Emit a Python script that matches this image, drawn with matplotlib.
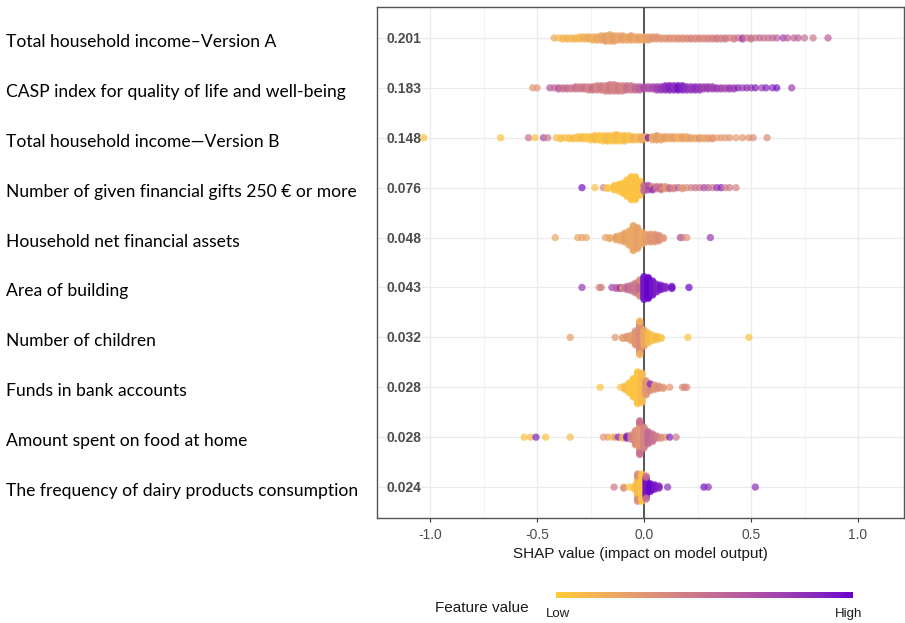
import numpy as np
import matplotlib
matplotlib.use("Agg")
import matplotlib.pyplot as plt
from matplotlib.colors import ListedColormap
from matplotlib.transforms import blended_transform_factory

plt.rcParams["font.family"] = ["Liberation Sans", "DejaVu Sans"]
plt.rcParams["axes.unicode_minus"] = False

# Feature names, top to bottom, and mean |SHAP| shown inside the panel
features = [
    "Total household income\u2013Version A",
    "CASP index for quality of life and well-being",
    "Total household income\u2014Version B",
    "Number of given financial gifts 250 \u20ac or more",
    "Household net financial assets",
    "Area of building",
    "Number of children",
    "Funds in bank accounts",
    "Amount spent on food at home",
    "The frequency of dairy products consumption",
]
mean_abs = [0.201, 0.183, 0.148, 0.076, 0.048, 0.043, 0.032, 0.028, 0.028, 0.024]

# Each row: (SHAP value, scaled feature value 0..1, number of observations)
income_a = [
    (-0.42, 0.2, 1), (-0.40, 0.1, 1), (-0.38, 0.1, 2), (-0.36, 0.15, 2),
    (-0.34, 0.1, 2), (-0.32, 0.15, 2), (-0.30, 0.1, 3), (-0.28, 0.15, 3),
    (-0.26, 0.2, 3), (-0.24, 0.15, 4), (-0.22, 0.2, 4), (-0.20, 0.2, 5),
    (-0.18, 0.25, 6), (-0.16, 0.2, 7), (-0.14, 0.25, 6), (-0.12, 0.2, 5),
    (-0.10, 0.25, 5), (-0.08, 0.2, 4), (-0.06, 0.25, 5), (-0.04, 0.2, 4),
    (-0.02, 0.25, 4), (0.00, 0.2, 4), (0.02, 0.25, 4), (0.04, 0.3, 3),
    (0.06, 0.3, 3), (0.08, 0.3, 2), (0.10, 0.3, 2), (0.12, 0.35, 2),
    (0.14, 0.3, 2), (0.16, 0.35, 2), (0.18, 0.35, 2), (0.20, 0.35, 2),
    (0.22, 0.4, 2), (0.24, 0.35, 2), (0.26, 0.4, 2), (0.28, 0.35, 2),
    (0.30, 0.4, 2), (0.32, 0.4, 2), (0.34, 0.45, 2), (0.36, 0.4, 2),
    (0.38, 0.45, 2), (0.40, 0.45, 1), (0.42, 0.4, 2), (0.44, 0.5, 1),
    (0.46, 0.7, 2), (0.48, 0.45, 1), (0.50, 0.5, 2), (0.52, 0.45, 1),
    (0.54, 0.55, 1), (0.56, 0.5, 1), (0.58, 0.5, 1), (0.60, 0.55, 1),
    (0.62, 0.6, 1), (0.65, 0.75, 1), (0.67, 0.6, 1), (0.70, 0.55, 1),
    (0.72, 0.6, 1), (0.75, 0.5, 1), (0.79, 0.45, 1), (0.86, 0.6, 1),
]
casp = [
    (-0.52, 0.3, 1), (-0.50, 0.3, 1), (-0.44, 0.65, 1), (-0.42, 0.55, 1),
    (-0.40, 0.6, 2), (-0.38, 0.5, 2), (-0.36, 0.55, 2), (-0.34, 0.45, 2),
    (-0.32, 0.5, 3), (-0.30, 0.45, 3), (-0.28, 0.5, 3), (-0.26, 0.4, 4),
    (-0.24, 0.5, 4), (-0.22, 0.4, 5), (-0.20, 0.45, 5), (-0.18, 0.4, 6),
    (-0.16, 0.45, 7), (-0.14, 0.4, 7), (-0.12, 0.45, 6), (-0.10, 0.4, 6),
    (-0.08, 0.5, 5), (-0.06, 0.45, 5), (-0.04, 0.55, 4), (-0.02, 0.6, 4),
    (0.00, 0.7, 3), (0.02, 0.65, 3), (0.04, 0.7, 3), (0.06, 0.75, 4),
    (0.08, 0.8, 4), (0.10, 0.85, 5), (0.12, 0.9, 5), (0.14, 0.85, 5),
    (0.16, 0.95, 5), (0.18, 0.9, 5), (0.20, 0.85, 4), (0.22, 0.8, 4),
    (0.24, 0.85, 4), (0.26, 0.8, 4), (0.28, 0.75, 3), (0.30, 0.8, 3),
    (0.32, 0.75, 3), (0.34, 0.8, 2), (0.36, 0.75, 2), (0.38, 0.7, 2),
    (0.40, 0.8, 2), (0.42, 0.75, 2), (0.44, 0.9, 1), (0.46, 0.75, 1),
    (0.48, 0.85, 1), (0.50, 0.8, 1), (0.52, 0.9, 1), (0.55, 0.75, 1),
    (0.57, 0.9, 1), (0.60, 0.85, 1), (0.62, 0.95, 1), (0.69, 0.75, 1),
]
income_b = [
    (-1.03, 0.05, 1), (-0.67, 0.05, 1), (-0.54, 0.5, 1), (-0.51, 0.05, 1),
    (-0.47, 0.7, 1), (-0.45, 0.45, 1), (-0.41, 0.1, 1), (-0.39, 0.05, 2),
    (-0.37, 0.1, 1), (-0.35, 0.05, 2), (-0.33, 0.1, 2), (-0.31, 0.05, 3),
    (-0.29, 0.1, 3), (-0.27, 0.05, 3), (-0.25, 0.05, 4), (-0.23, 0.1, 5),
    (-0.21, 0.05, 5), (-0.19, 0.05, 6), (-0.17, 0.1, 6), (-0.15, 0.05, 6),
    (-0.13, 0.1, 7), (-0.11, 0.05, 6), (-0.09, 0.1, 6), (-0.07, 0.05, 5),
    (-0.05, 0.15, 4), (-0.03, 0.1, 4), (-0.01, 0.2, 4), (0.01, 0.15, 3),
    (0.02, 0.95, 1), (0.04, 0.2, 4), (0.06, 0.25, 5), (0.08, 0.2, 4),
    (0.10, 0.25, 3), (0.12, 0.2, 3), (0.14, 0.25, 3), (0.16, 0.15, 3),
    (0.18, 0.25, 3), (0.20, 0.2, 3), (0.22, 0.25, 2), (0.24, 0.2, 2),
    (0.26, 0.3, 2), (0.28, 0.2, 2), (0.30, 0.25, 2), (0.32, 0.3, 2),
    (0.34, 0.25, 1), (0.36, 0.3, 1), (0.38, 0.25, 1), (0.40, 0.3, 1),
    (0.43, 0.25, 1), (0.46, 0.3, 1), (0.49, 0.3, 1), (0.51, 0.35, 1),
    (0.575, 0.35, 1),
]
gifts = [
    (-0.29, 0.95, 1), (-0.23, 0.05, 1), (-0.19, 0.4, 1), (-0.17, 0.05, 2),
    (-0.14, 0.05, 5), (-0.12, 0.05, 7), (-0.10, 0.05, 10), (-0.08, 0.05, 16),
    (-0.06, 0.05, 22), (-0.04, 0.05, 22), (-0.02, 0.05, 14),
    (0.00, 0.3, 4), (0.00, 0.6, 2), (0.02, 0.35, 3), (0.02, 0.75, 2),
    (0.04, 0.4, 3), (0.04, 0.9, 1), (0.06, 0.5, 3), (0.08, 0.95, 2),
    (0.08, 0.35, 2), (0.10, 0.3, 3), (0.12, 0.55, 2), (0.14, 0.4, 2),
    (0.16, 0.6, 1), (0.18, 0.3, 2), (0.20, 0.35, 1), (0.22, 0.4, 1),
    (0.24, 0.5, 1), (0.26, 0.45, 1), (0.28, 0.7, 1), (0.30, 0.6, 1),
    (0.32, 0.45, 1), (0.34, 0.8, 1), (0.36, 0.9, 1), (0.38, 0.4, 1),
    (0.40, 0.45, 1), (0.43, 0.4, 1),
]
net_assets = [
    (-0.415, 0.2, 1), (-0.31, 0.2, 1), (-0.29, 0.25, 1), (-0.27, 0.2, 1),
    (-0.18, 0.25, 1), (-0.16, 0.2, 2), (-0.13, 0.25, 4), (-0.11, 0.2, 6),
    (-0.09, 0.25, 9), (-0.07, 0.2, 14), (-0.05, 0.2, 24), (-0.03, 0.25, 20),
    (-0.01, 0.2, 12), (0.01, 0.25, 8), (0.03, 0.3, 8), (0.05, 0.3, 8),
    (0.07, 0.35, 6), (0.09, 0.3, 2), (0.17, 0.7, 1), (0.18, 0.45, 1),
    (0.20, 0.3, 1), (0.31, 0.8, 1),
]
building_area = [
    (-0.29, 0.8, 1), (-0.21, 0.35, 1), (-0.20, 0.45, 1), (-0.15, 0.75, 1),
    (-0.13, 0.6, 2), (-0.11, 0.8, 2), (-0.10, 0.35, 2), (-0.08, 0.55, 4),
    (-0.06, 0.5, 6), (-0.04, 0.45, 10), (-0.02, 0.55, 12), (-0.02, 0.35, 4),
    (0.00, 0.95, 22), (0.02, 1.0, 20), (0.04, 0.95, 14), (0.06, 0.9, 8),
    (0.08, 0.95, 5), (0.10, 0.9, 3), (0.13, 0.95, 3), (0.21, 1.0, 1),
]
children = [
    (-0.345, 0.25, 1), (-0.135, 0.3, 1), (-0.10, 0.25, 2), (-0.08, 0.3, 3),
    (-0.06, 0.25, 6), (-0.04, 0.3, 14), (-0.02, 0.35, 28), (-0.02, 0.15, 4),
    (0.00, 0.2, 16), (0.02, 0.1, 10), (0.04, 0.05, 6), (0.06, 0.1, 4),
    (0.08, 0.05, 2), (0.205, 0.05, 1), (0.49, 0.05, 1),
]
bank_funds = [
    (-0.205, 0.05, 1), (-0.11, 0.05, 1), (-0.09, 0.1, 4), (-0.07, 0.05, 10),
    (-0.05, 0.05, 18), (-0.03, 0.05, 30), (-0.01, 0.1, 28), (0.01, 0.3, 14),
    (0.03, 0.35, 6), (0.03, 0.9, 1), (0.05, 0.3, 5), (0.07, 0.35, 3),
    (0.09, 0.3, 2), (0.12, 0.3, 1), (0.18, 0.35, 1), (0.19, 0.4, 1),
    (0.20, 0.35, 1),
]
food_home = [
    (-0.56, 0.05, 1), (-0.53, 0.1, 1), (-0.505, 0.9, 1), (-0.46, 0.05, 1),
    (-0.345, 0.1, 1), (-0.19, 0.3, 1), (-0.17, 0.25, 1), (-0.15, 0.05, 1),
    (-0.135, 0.3, 1), (-0.12, 0.85, 1), (-0.10, 0.15, 2), (-0.08, 0.9, 3),
    (-0.06, 0.4, 5), (-0.04, 0.35, 14), (-0.02, 0.3, 28), (-0.02, 0.5, 6),
    (0.00, 0.4, 20), (0.02, 0.55, 12), (0.04, 0.5, 8), (0.06, 0.45, 3),
    (0.08, 0.35, 2), (0.10, 0.3, 1), (0.12, 0.9, 1), (0.15, 0.45, 1),
]
dairy = [
    (-0.14, 0.45, 1), (-0.095, 0.1, 1), (-0.095, 0.4, 1), (-0.07, 0.05, 1),
    (-0.045, 0.05, 4), (-0.03, 0.1, 20), (-0.03, 0.35, 6), (-0.01, 0.05, 26),
    (0.01, 0.95, 18), (0.01, 0.5, 4), (0.03, 1.0, 8), (0.05, 0.95, 5),
    (0.07, 0.9, 3), (0.11, 0.85, 1), (0.28, 0.95, 1), (0.30, 0.85, 1),
    (0.52, 0.85, 1),
]
rows = [income_a, casp, income_b, gifts, net_assets, building_area,
        children, bank_funds, food_home, dairy]


# colour gradient #FFCC33 -> #6600CC, interpolated in CIELAB like ggplot2
def to_lab(hexcol):
    rgb = np.array([int(hexcol[i:i + 2], 16) for i in (1, 3, 5)]) / 255.0
    lin = np.where(rgb <= 0.04045, rgb / 12.92, ((rgb + 0.055) / 1.055) ** 2.4)
    m = np.array([[0.4124, 0.3576, 0.1805],
                  [0.2126, 0.7152, 0.0722],
                  [0.0193, 0.1192, 0.9505]])
    xyz = m @ lin / np.array([0.95047, 1.0, 1.08883])
    f = np.where(xyz > 0.008856, np.cbrt(xyz), 7.787 * xyz + 16 / 116)
    return np.array([116 * f[1] - 16, 500 * (f[0] - f[1]), 200 * (f[1] - f[2])])


def from_lab(lab):
    fy = (lab[0] + 16) / 116
    fx = fy + lab[1] / 500
    fz = fy - lab[2] / 200
    f = np.array([fx, fy, fz])
    xyz = np.where(f > 0.2069, f ** 3, (f - 16 / 116) / 7.787)
    xyz = xyz * np.array([0.95047, 1.0, 1.08883])
    minv = np.array([[3.2406, -1.5372, -0.4986],
                     [-0.9689, 1.8758, 0.0415],
                     [0.0557, -0.2040, 1.0570]])
    lin = minv @ xyz
    rgb = np.where(lin <= 0.0031308, 12.92 * lin, 1.055 * np.abs(lin) ** (1 / 2.4) - 0.055)
    return np.clip(rgb, 0, 1)


lab_lo, lab_hi = to_lab("#FFCC33"), to_lab("#6600CC")
cmap = ListedColormap([from_lab(lab_lo + t * (lab_hi - lab_lo))
                       for t in np.linspace(0, 1, 256)])


def sina_layout(entries, step=0.022, maxw=0.34):
    # stack observations sharing a SHAP value vertically around the row centre
    cols = {}
    for x, fv, n in entries:
        cols.setdefault(x, []).extend([fv] * n)
    xs, offs, fvs = [], [], []
    for x, vals in cols.items():
        n = len(vals)
        st = min(step, 2 * maxw / max(n - 1, 1))
        for k, fv in enumerate(vals):
            xs.append(x)
            offs.append(np.ceil(k / 2) * (1 if k % 2 else -1) * st)
            fvs.append(fv)
    return np.array(xs), np.array(offs), np.array(fvs)


W, H = 905, 623
fig = plt.figure(figsize=(W / 100, H / 100), dpi=100)
ax = fig.add_axes([377 / W, 1 - 518 / H, 527 / W, 511 / H])

for i, entries in enumerate(rows):
    xs, offs, fvs = sina_layout(entries)
    ax.scatter(xs, i + offs, c=fvs, cmap=cmap, vmin=0, vmax=1, s=28,
               alpha=0.7, linewidths=0, zorder=3)

ax.axvline(0, color="#555555", lw=1.4, zorder=2)
ax.set_xlim(-1.248, 1.215)
ax.set_ylim(9.62, -0.62)
ax.set_xticks([-1.0, -0.5, 0.0, 0.5, 1.0])
ax.set_xticks([-0.75, -0.25, 0.25, 0.75], minor=True)
ax.set_yticks(range(len(features)))
ax.set_yticklabels([])
ax.tick_params(axis="y", length=0)
ax.tick_params(axis="x", which="major", length=3, width=0.8, color="#333333",
               labelsize=10, labelcolor="#4d4d4d", pad=4.5)
ax.tick_params(axis="x", which="minor", length=0)
ax.grid(which="major", color="#ebebeb", lw=0.9, zorder=0)
ax.grid(which="minor", axis="x", color="#f2f2f2", lw=0.6, zorder=0)
ax.set_axisbelow(True)
for sp in ax.spines.values():
    sp.set_color("#555555")
    sp.set_linewidth(1.0)

# mean |SHAP| values
tr_in = blended_transform_factory(ax.transAxes, ax.transData)
for i, v in enumerate(mean_abs):
    ax.text(0.018, i + 0.02, f"{v:.3f}", transform=tr_in, ha="left", va="center",
            fontsize=10, fontweight="bold", color="#4d4d4d", zorder=4)

# feature names outside the panel
tr_out = blended_transform_factory(fig.transFigure, ax.transData)
for i, name in enumerate(features):
    ax.text(6 / W, i + 0.08, name, transform=tr_out, ha="left", va="center",
            fontsize=12.6, family=["Lato", "DejaVu Sans"], color="black",
            clip_on=False)

fig.text(640.5 / W, 1 - 554 / H, "SHAP value (impact on model output)",
         ha="center", va="center", fontsize=11, color="#1a1a1a")

# colour bar legend
cax = fig.add_axes([556 / W, 1 - 598 / H, 296 / W, 6 / H])
cax.imshow(np.linspace(0, 1, 256)[None, :], aspect="auto", cmap=cmap)
cax.axis("off")
fig.text(435 / W, 1 - 608 / H, "Feature value", ha="left", va="center",
         fontsize=11, color="#1a1a1a")
fig.text(546 / W, 1 - 614 / H, "Low", ha="left", va="center", fontsize=9.5,
         color="#1a1a1a")
fig.text(862 / W, 1 - 614 / H, "High", ha="right", va="center", fontsize=9.5,
         color="#1a1a1a")

fig.savefig("out.png", dpi=100)
